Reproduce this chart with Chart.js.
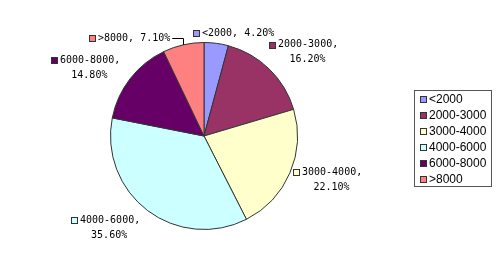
<!DOCTYPE html>
<html>
<head>
<meta charset="utf-8">
<script src="https://cdn.jsdelivr.net/npm/chart.js@4"></script>
<style>
  html, body { margin: 0; padding: 0; background: #ffffff; }
  #wrap { width: 500px; height: 260px; position: relative; }
</style>
</head>
<body>
<div id="wrap"><canvas id="pieChart" width="500" height="260"></canvas></div>
<script>
const categories = ["<2000", "2000-3000", "3000-4000", "4000-6000", "6000-8000", ">8000"];
const shares = [4.2, 16.2, 22.1, 35.6, 14.8, 7.1];
const valueLabels = ["4.20%", "16.20%", "22.10%", "35.60%", "14.80%", "7.10%"];

const sliceColors = ["#9999FF", "#993366", "#FFFFCC", "#CCFFFF", "#660066", "#FF8080"];

// label placement: angle nudge (deg) from slice middle, distance from centre, one or two lines
const labelNudge = [8.4, 5.7, -3.7, 10, -7.8, -24.6];
const labelDist = [107, 130, 131, 135, 137, 123];
const labelTwoLines = [false, true, true, true, true, false];

const labelFont = "10px 'DejaVu Sans Mono', 'Liberation Mono', monospace";
const legendFont = "12px 'Liberation Sans', Arial, sans-serif";

function drawSwatch(ctx, x, y, color) {
  ctx.fillStyle = color;
  ctx.fillRect(x, y, 6, 6);
  ctx.strokeStyle = "#333333";
  ctx.lineWidth = 1;
  ctx.strokeRect(x + 0.5, y + 0.5, 6, 6);
}

const pieLabels = {
  id: "pieLabels",
  afterDraw(chart) {
    const ctx = chart.ctx;
    const arcs = chart.getDatasetMeta(0).data;
    ctx.save();
    ctx.font = labelFont;
    ctx.textBaseline = "middle";
    arcs.forEach((arc, i) => {
      const mid = (arc.startAngle + arc.endAngle) / 2 + labelNudge[i] * Math.PI / 180;
      const cx = arc.x + labelDist[i] * Math.cos(mid);
      const cy = arc.y + labelDist[i] * Math.sin(mid);
      const first = labelTwoLines[i] ? categories[i] + "," : categories[i] + ", " + valueLabels[i];
      const w1 = ctx.measureText(first).width + 9;
      const lineH = 15;
      const y1 = labelTwoLines[i] ? cy - lineH / 2 : cy;
      const x1 = Math.round(cx - w1 / 2);
      drawSwatch(ctx, x1, Math.round(y1 - 3), sliceColors[i]);
      ctx.fillStyle = "#000000";
      ctx.textAlign = "left";
      ctx.fillText(first, x1 + 9, y1);
      if (labelTwoLines[i]) {
        ctx.textAlign = "center";
        ctx.fillText(valueLabels[i], cx + 4, y1 + lineH);
      }
      // leader line when label was pushed away from its slice
      if (Math.abs(labelNudge[i]) > 20) {
        const endX = x1 + w1 + 2;
        const edgeA = (arc.startAngle + arc.endAngle) / 2;
        const ex = arc.x + arc.outerRadius * Math.cos(edgeA);
        const ey = arc.y + arc.outerRadius * Math.sin(edgeA);
        ctx.strokeStyle = "#000000";
        ctx.lineWidth = 1;
        ctx.beginPath();
        ctx.moveTo(endX, Math.round(y1) + 0.5);
        ctx.lineTo(Math.round(ex) + 0.5, Math.round(y1) + 0.5);
        ctx.lineTo(Math.round(ex) + 0.5, ey);
        ctx.stroke();
      }
    });

    // legend box
    ctx.strokeStyle = "#555555";
    ctx.lineWidth = 1;
    ctx.strokeRect(414.5, 90.5, 77, 96);
    ctx.font = legendFont;
    ctx.textAlign = "left";
    categories.forEach((name, i) => {
      const y = 99 + i * 16;
      drawSwatch(ctx, 420, y - 3, sliceColors[i]);
      ctx.fillStyle = "#000000";
      ctx.fillText(name, 429, y + 1);
    });
    ctx.restore();
  }
};

new Chart(document.getElementById("pieChart").getContext("2d"), {
  type: "pie",
  data: {
    labels: categories,
    datasets: [{
      data: shares,
      backgroundColor: sliceColors,
      borderColor: "#333333",
      borderWidth: 1,
      hoverOffset: 0
    }]
  },
  options: {
    responsive: false,
    animation: false,
    rotation: 0,
    layout: { padding: { left: 110, right: 202, top: 42, bottom: 30 } },
    plugins: {
      legend: { display: false },
      tooltip: { enabled: false }
    }
  },
  plugins: [pieLabels]
});
</script>
</body>
</html>
